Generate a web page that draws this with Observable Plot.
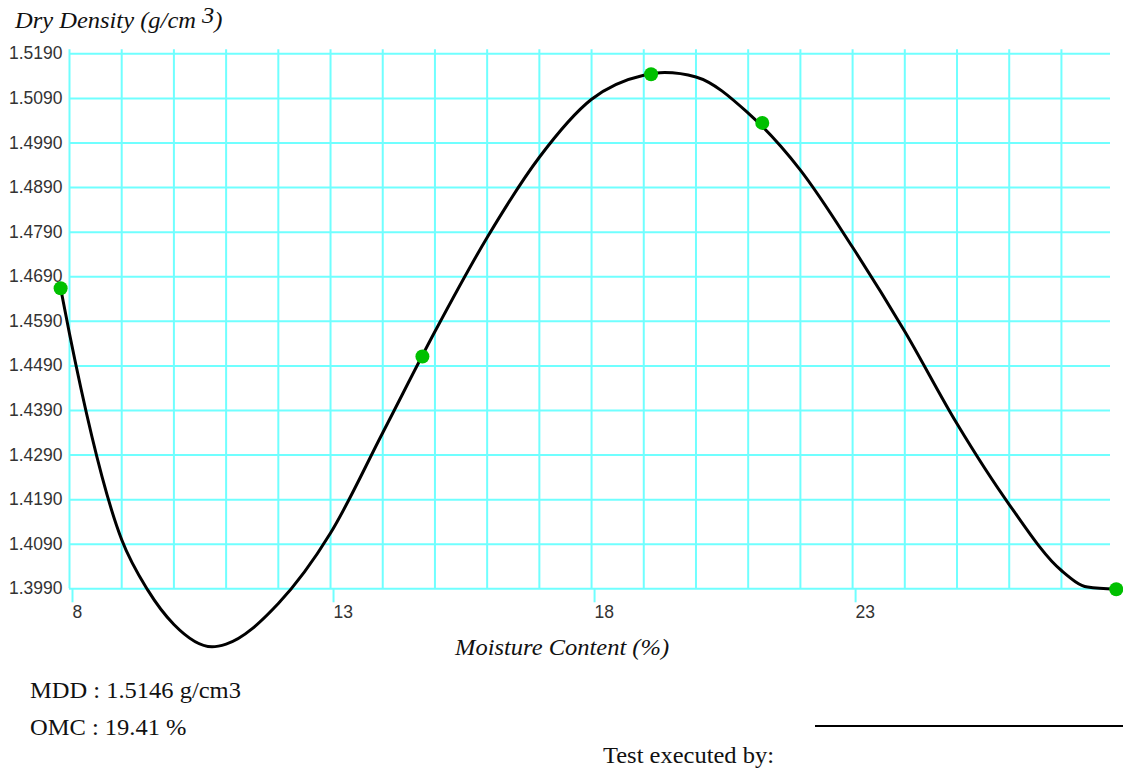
<!DOCTYPE html>
<html>
<head>
<meta charset="utf-8">
<script src="https://cdn.jsdelivr.net/npm/d3@7"></script>
<script src="https://cdn.jsdelivr.net/npm/@observablehq/plot@0.6"></script>
<style>
  html, body { margin: 0; padding: 0; background: #fff; overflow: hidden; }
  #wrap { position: relative; width: 1123px; height: 771px; }
  #wrap svg { display: block; }
  .t { position: absolute; font-family: "Liberation Serif", "Times New Roman", serif; color: #111; white-space: nowrap; line-height: 1; font-size: 23px; transform: scaleX(1.065); transform-origin: 0 50%; }
  .it { font-style: italic; }
</style>
</head>
<body>
<div id="wrap">
  <div class="t it" id="ytitle" style="left:15px; top:9px;">Dry Density (g/cm <span style="position:relative; top:-5px;">3</span>)</div>
  <div class="t it" id="xtitle" style="left:455px; top:636px;">Moisture Content (%)</div>
  <div class="t" id="mdd" style="left:30px; top:679px;">MDD : 1.5146 g/cm3</div>
  <div class="t" id="omc" style="left:30px; top:716px;">OMC : 19.41 %</div>
  <div class="t" id="exec" style="left:603px; top:744px;">Test executed by:</div>
  <div style="position:absolute; left:815px; top:725px; width:308px; height:2px; background:#000;"></div>
</div>
<script>
// Measured test points
const moisture = [7.83, 14.76, 19.14, 21.27, 28.05];
const density  = [1.4664, 1.4511, 1.5144, 1.5035, 1.3989];

// Compaction curve (at each grid line, plus the turning points)
const curveMoisture = [7.83, 8, 9, 9.5, 10, 10.73, 11, 12, 13, 14, 15, 16, 17, 18, 19, 19.40, 20, 21, 22, 23, 24, 25, 26, 27, 27.5, 28.05];
const curveDensity  = [1.4664, 1.4562, 1.4100, 1.3987, 1.3910, 1.3860, 1.3866, 1.3957, 1.4115, 1.4340, 1.4567, 1.4778, 1.4958, 1.5088, 1.5142, 1.5148, 1.5138, 1.5057, 1.4929, 1.4756, 1.4567, 1.4360, 1.4179, 1.4031, 1.3994, 1.3989];

// Axis ticks
const xTickLabels = [8, 13, 18, 23];
const xGridLines = [8, 9, 10, 11, 12, 13, 14, 15, 16, 17, 18, 19, 20, 21, 22, 23, 24, 25, 26, 27];
const yTickLabels = [1.399, 1.409, 1.419, 1.429, 1.439, 1.449, 1.459, 1.469, 1.479, 1.489, 1.499, 1.509, 1.519];

const points = moisture.map((m, i) => ({m, d: density[i]}));
const curve = curveMoisture.map((m, i) => ({m, d: curveDensity[i]}));

const gridColor = "#70ffff";
const sans = "'Liberation Sans', Arial, sans-serif";

const chart = Plot.plot({
  width: 1123,
  height: 771,
  marginTop: 53.3,
  marginBottom: 182.7,
  marginLeft: 69,
  marginRight: 13,
  style: {fontFamily: sans, background: "transparent"},
  x: {domain: [8, 27.94]},
  y: {domain: [1.399, 1.519]},
  marks: [
    Plot.gridX(xGridLines, {stroke: gridColor, strokeOpacity: 1, strokeWidth: 2, insetTop: -4}),
    Plot.gridY(yTickLabels, {stroke: gridColor, strokeOpacity: 1, strokeWidth: 2}),
    Plot.axisX(xTickLabels, {
      tickSize: 14, tickPadding: 3, stroke: gridColor, strokeWidth: 2,
      fill: "#333", fontSize: 17.5, fontFamily: sans, textAnchor: "start", dx: 3,
      tickFormat: d => String(d), label: null
    }),
    Plot.axisY(yTickLabels, {
      tickSize: 0, tickPadding: 7, fill: "#333", fontSize: 17.5, fontFamily: sans,
      tickFormat: d => d.toFixed(4), label: null
    }),
    Plot.line(curve, {x: "m", y: "d", curve: "monotone-x", stroke: "black", strokeWidth: 3}),
    Plot.dot(points, {x: "m", y: "d", r: 7, fill: "#00c000", stroke: "none"})
  ]
});

document.getElementById("wrap").prepend(chart);
</script>
</body>
</html>
